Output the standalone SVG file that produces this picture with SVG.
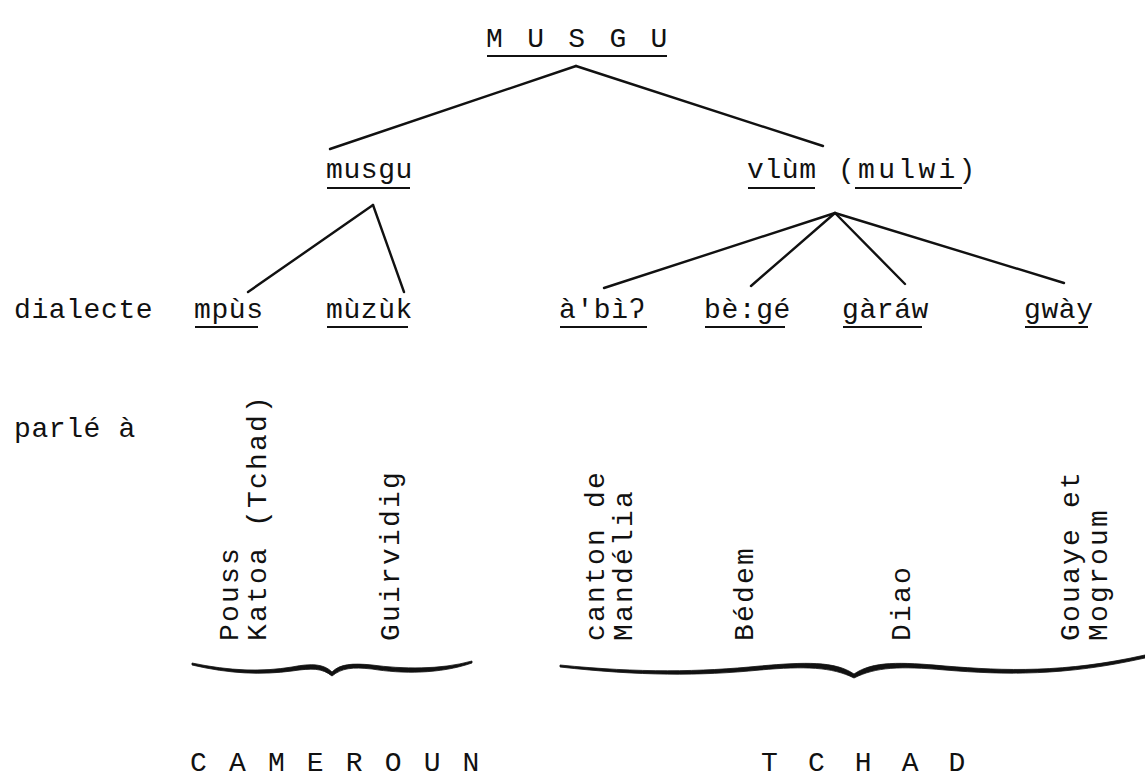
<svg xmlns="http://www.w3.org/2000/svg" width="1145" height="780" viewBox="0 0 1145 780">
<style>
text{font-family:"Liberation Mono","DejaVu Sans Mono",monospace;font-size:28px;letter-spacing:0.6px;fill:#111}
text.v{letter-spacing:2.2px}
.ul{stroke:#111;stroke-width:2.2}
.edge{stroke:#111;stroke-width:2.4;fill:none;stroke-linecap:round}
.brace{fill:#111;stroke:#111;stroke-width:0.8}
</style>
<rect width="1145" height="780" fill="#fff"/>
<g id="connectors">
<line class="edge" x1="576" y1="66" x2="330" y2="149"/>
<line class="edge" x1="576" y1="66" x2="823" y2="146"/>
<line class="edge" x1="373" y1="205" x2="248" y2="292"/>
<line class="edge" x1="373" y1="205" x2="404" y2="292"/>
<line class="edge" x1="835" y1="213" x2="604" y2="288"/>
<line class="edge" x1="835" y1="213" x2="751" y2="286"/>
<line class="edge" x1="835" y1="213" x2="905" y2="284"/>
<line class="edge" x1="835" y1="213" x2="1064" y2="283"/>
</g>
<g id="root"><text x="486" y="47" textLength="182" lengthAdjust="spacing">M U S G U</text><line class="ul" x1="487" y1="56" x2="667" y2="56"/></g>
<g id="musgu"><text x="326" y="178">musgu</text><line class="ul" x1="327" y1="188" x2="410" y2="188"/></g>
<g id="vlum"><text x="747" y="178">vlùm</text><text x="838" y="178" textLength="138" lengthAdjust="spacing">(mulwi)</text><line class="ul" x1="748" y1="188" x2="815" y2="188"/><line class="ul" x1="855" y1="188" x2="962" y2="188"/></g>
<g id="row-labels"><text x="14" y="318">dialecte</text><text x="14" y="437">parlé à</text></g>
<g id="mpus"><text x="194" y="318">mpùs</text><line class="ul" x1="195" y1="327" x2="258" y2="327"/></g>
<g id="muzuk"><text x="326" y="318">mùzùk</text><line class="ul" x1="327" y1="327" x2="408" y2="327"/></g>
<g id="abi"><text x="559" y="318">à'bìʔ</text><line class="ul" x1="560" y1="327" x2="647" y2="327"/></g>
<g id="bege"><text x="704" y="318">bè:gé</text><line class="ul" x1="705" y1="327" x2="785" y2="327"/></g>
<g id="garaw"><text x="842" y="318">gàráw</text><line class="ul" x1="843" y1="327" x2="922" y2="327"/></g>
<g id="gway"><text x="1024" y="318">gwày</text><line class="ul" x1="1025" y1="327" x2="1088" y2="327"/></g>
<g id="places">
<text class="v" transform="translate(238,641) rotate(-90)">Pouss</text>
<text class="v" transform="translate(266,641) rotate(-90)">Katoa (Tchad)</text>
<text class="v" transform="translate(399,641) rotate(-90)">Guirvidig</text>
<text class="v" transform="translate(604,641) rotate(-90)">canton de</text>
<text class="v" transform="translate(632,641) rotate(-90)">Mandélia</text>
<text class="v" transform="translate(753,641) rotate(-90)">Bédem</text>
<text class="v" transform="translate(910,641) rotate(-90)">Diao</text>
<text class="v" transform="translate(1079,641) rotate(-90)">Gouaye et</text>
<text class="v" transform="translate(1107,641) rotate(-90)">Mogroum</text>
</g>
<g id="cameroun">
<path class="brace" d="M192,663 C230,671 262,672 292,667 C312,663 324,664 332,672 C340,664 352,663 372,665 C402,669 440,670 472,661 L472,663 C440,674 402,674 372,669 C352,667 342,668 332,676 C322,668 312,668 292,671 C262,675 230,674 192,665 Z"/>
<text x="190" y="771" textLength="290" lengthAdjust="spacing">C A M E R O U N</text>
</g>
<g id="tchad">
<path class="brace" d="M560,665 C640,673 700,672 760,666 C805,662 835,661 854,674 C873,661 900,662 945,666 C1005,671 1065,673 1145,655 L1145,658 C1065,676 1005,675 945,670 C900,666 876,667 854,678 C832,667 805,666 760,670 C700,676 640,676 560,667 Z"/>
<text x="761" y="771" textLength="205" lengthAdjust="spacing">T C H A D</text>
</g>
</svg>
